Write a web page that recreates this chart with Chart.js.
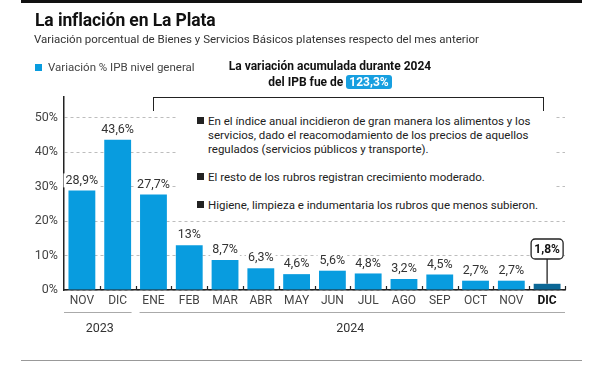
<!DOCTYPE html>
<html>
<head>
<meta charset="utf-8">
<script src="https://cdn.jsdelivr.net/npm/chart.js@4.4.1/dist/chart.umd.min.js"></script>
<style>
  html, body { margin: 0; padding: 0; background: #fff; }
  body { width: 600px; height: 365px; position: relative; overflow: hidden; font-family: Roboto, sans-serif; color: #222; }
  #wrap { position: absolute; left: 0; top: 0; width: 600px; height: 365px; }
  .abs { position: absolute; white-space: nowrap; }
  #topbar { left: 21px; top: 0; width: 561px; height: 3px; background: #111; }
  #title { left: 35px; top: 10px; font-size: 17.5px; font-weight: 700; color: #111; letter-spacing: -0.1px; }
  #subtitle { left: 34px; top: 32px; font-size: 11.5px; color: #333; }
  #legend { left: 35px; top: 60px; font-size: 11.5px; color: #444; }
  #legend i { display: inline-block; width: 7px; height: 7px; background: #089cdf; margin-right: 6px; vertical-align: 0px; }
  #headline { left: 200px; width: 260px; top: 58px; font-size: 12px; font-weight: 700; color: #111; text-align: center; line-height: 16px; }
  #headline span { background: #179fe0; color: #fff; border-radius: 3px; padding: 0 3px; }
  #bracket { left: 153px; top: 97px; width: 389px; height: 13px; border: 1.5px solid #222; border-bottom: none; }
  #notes { left: 176px; top: 114px; width: 380px; height: 100px; background: #fff; font-size: 11.5px; color: #222; line-height: 14px; white-space: normal; }
  #notes p { margin: 0 0 14px 0; padding-left: 32px; position: relative; }
  #notes p::before { content: ''; position: absolute; left: 21px; top: 3px; width: 7px; height: 7px; background: #222; }
  #bottomline { left: 21px; top: 360px; width: 561px; height: 1px; background: #999; }
</style>
</head>
<body>
<div id="wrap"><canvas id="grafico" width="600" height="365"></canvas></div>
<div class="abs" id="topbar"></div>
<div class="abs" id="title">La inflación en La Plata</div>
<div class="abs" id="subtitle">Variación porcentual de Bienes y Servicios Básicos platenses respecto del mes anterior</div>
<div class="abs" id="legend"><i></i>Variación % IPB nivel general</div>
<div class="abs" id="headline">La variación acumulada durante 2024<br>del IPB fue de <span>123,3%</span></div>
<div class="abs" id="bracket"></div>
<div class="abs" id="notes">
  <p>En el índice anual incidieron de gran manera los alimentos y los servicios, dado el reacomodamiento de los precios de aquellos regulados (servicios públicos y transporte).</p>
  <p>El resto de los rubros registran crecimiento moderado.</p>
  <p>Higiene, limpieza e indumentaria los rubros que menos subieron.</p>
</div>
<div class="abs" id="bottomline"></div>

<script>
// datos
const meses = ['NOV', 'DIC', 'ENE', 'FEB', 'MAR', 'ABR', 'MAY', 'JUN', 'JUL', 'AGO', 'SEP', 'OCT', 'NOV', 'DIC'];
const variacion = [28.9, 43.6, 27.7, 13, 8.7, 6.3, 4.6, 5.6, 4.8, 3.2, 4.5, 2.7, 2.7, 1.8];
const etiquetas = ['28,9%', '43,6%', '27,7%', '13%', '8,7%', '6,3%', '4,6%', '5,6%', '4,8%', '3,2%', '4,5%', '2,7%', '2,7%', '1,8%'];
const anios = ['2023', '2024'];
const inicioAnio = [0, 2];
const ticksY = [0, 10, 20, 30, 40, 50];

const AZUL = '#089cdf';
const AZUL_OSCURO = '#0b6796';
const ultimo = variacion.length - 1;

// etiquetas de valor sobre cada barra
const etiquetasPlugin = {
    id: 'etiquetas',
    afterDatasetsDraw(chart) {
        const ctx = chart.ctx;
        const meta = chart.getDatasetMeta(0);
        ctx.save();
        ctx.textAlign = 'center';
        ctx.textBaseline = 'middle';
        meta.data.forEach((bar, i) => {
            const x = bar.x;
            if (i === ultimo) {
                ctx.font = 'bold 12px Roboto';
                const w = 32, h = 20, y0 = 239;
                ctx.strokeStyle = '#222';
                ctx.lineWidth = 1.3;
                ctx.beginPath();
                ctx.moveTo(x, y0 + h);
                ctx.lineTo(x, bar.y);
                ctx.stroke();
                ctx.fillStyle = '#fff';
                ctx.beginPath();
                ctx.roundRect(x - w / 2, y0, w, h, 4);
                ctx.fill();
                ctx.stroke();
                ctx.fillStyle = '#111';
                ctx.fillText(etiquetas[i], x, y0 + h / 2 + 0.5);
                return;
            }
            ctx.font = '12.5px Roboto';
            const y = bar.y - 10;
            const tw = ctx.measureText(etiquetas[i]).width;
            ctx.fillStyle = '#fff';
            ctx.fillRect(x - tw / 2 - 2, y - 7, tw + 4, 14);
            ctx.fillStyle = '#333';
            ctx.fillText(etiquetas[i], x, y);
        });
        ctx.restore();
    },
    afterDraw(chart) {
        const ctx = chart.ctx;
        const xs = chart.scales.x;
        const n = meses.length;
        const paso = xs.width / n;
        ctx.save();
        // marcas del eje x hacia arriba
        ctx.strokeStyle = '#222';
        ctx.lineWidth = 1.2;
        for (let i = 1; i <= n; i++) {
            const x = Math.round(xs.left + i * paso) + 0.5;
            ctx.beginPath();
            ctx.moveTo(x, xs.top - 4);
            ctx.lineTo(x, xs.top);
            ctx.stroke();
        }
        // grupos de años
        ctx.font = '12.5px Roboto';
        ctx.fillStyle = '#333';
        ctx.textAlign = 'center';
        ctx.textBaseline = 'middle';
        anios.forEach((anio, k) => {
            const desde = inicioAnio[k];
            const hasta = k + 1 < anios.length ? inicioAnio[k + 1] : n;
            const x0 = xs.left + desde * paso + (k === 0 ? 0 : 4);
            const x1 = xs.left + hasta * paso - (k === anios.length - 1 ? 0 : 4);
            ctx.strokeStyle = '#aaa';
            ctx.lineWidth = 1;
            ctx.beginPath();
            ctx.moveTo(x0, 312.5);
            ctx.lineTo(x1, 312.5);
            ctx.stroke();
            ctx.fillText(anio, (xs.left + desde * paso + xs.left + hasta * paso) / 2, 329);
        });
        ctx.restore();
    }
};

const grafico = new Chart(document.getElementById('grafico'), {
    type: 'bar',
    data: {
        labels: meses,
        datasets: [{
            label: 'Variación % IPB nivel general',
            data: variacion,
            backgroundColor: variacion.map((v, i) => i === ultimo ? AZUL_OSCURO : AZUL),
            borderWidth: 0,
            categoryPercentage: 1,
            barPercentage: 0.75
        }]
    },
    options: {
        responsive: false,
        animation: false,
        layout: { padding: { top: 97, right: 35, left: 0, bottom: 0 } },
        plugins: { legend: { display: false }, tooltip: { enabled: false } },
        scales: {
            x: {
                grid: { display: false, drawTicks: false },
                border: { display: true, color: '#222', width: 1.5 },
                ticks: {
                    padding: 4,
                    color: ctx => ctx.index === ultimo ? '#111' : '#444',
                    font: ctx => ({ family: 'Roboto', size: 12, weight: ctx.index === ultimo ? 'bold' : 'normal' })
                },
                afterFit(scale) { scale.height = 75; }
            },
            y: {
                min: 0,
                max: 56,
                afterBuildTicks(scale) { scale.ticks = ticksY.map(v => ({ value: v })); },
                grid: { color: '#bdbdbd', drawTicks: false, lineWidth: 1 },
                border: { display: true, color: '#222', width: 1.5, dash: [3, 3] },
                ticks: {
                    padding: 6,
                    color: '#444',
                    font: { family: 'Roboto', size: 12.5 },
                    callback: v => v + '%'
                },
                afterFit(scale) { scale.width = 64; }
            }
        }
    },
    plugins: [etiquetasPlugin]
});
</script>
</body>
</html>
